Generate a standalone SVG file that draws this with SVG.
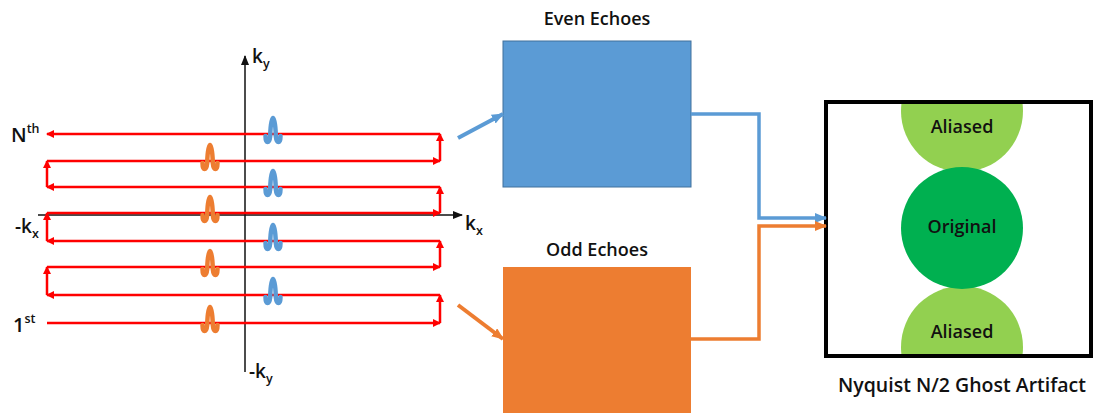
<svg xmlns="http://www.w3.org/2000/svg" xmlns:xlink="http://www.w3.org/1999/xlink" width="1095" height="413" viewBox="0 0 1095 413">
  <style>
    text { font-family: "Open Sans", "Noto Sans", "Liberation Sans", sans-serif; font-weight: 600; fill: #111; }
    .lbl { font-size: 18px; }
    .ax { font-size: 19px; }
    .sub { font-size: 12.5px; }
    .traj { stroke: #FF0000; stroke-width: 2.5; fill: none; marker-end: url(#redArrow); }
    .axis { stroke: #111; stroke-width: 1.5; fill: none; marker-end: url(#blackArrow); }
    .pulse-o { stroke: #ED7D31; }
    .pulse-b { stroke: #5B9BD5; }
    .pulse { fill: none; stroke-width: 4.5; stroke-linecap: round; stroke-linejoin: round; }
  </style>
  <defs>
    <marker id="redArrow" markerUnits="userSpaceOnUse" markerWidth="10" markerHeight="10" refX="7" refY="4" orient="auto">
      <path d="M0,0 L8,4 L0,8 Z" fill="#FF0000"/>
    </marker>
    <marker id="blackArrow" markerUnits="userSpaceOnUse" markerWidth="12" markerHeight="10" refX="9" refY="4" orient="auto">
      <path d="M0,0 L10,4 L0,8 Z" fill="#111"/>
    </marker>
    <marker id="blueArrow" markerUnits="userSpaceOnUse" markerWidth="14" markerHeight="12" refX="11" refY="5" orient="auto">
      <path d="M0,0 L12,5 L0,10 Z" fill="#5B9BD5"/>
    </marker>
    <marker id="orangeArrow" markerUnits="userSpaceOnUse" markerWidth="14" markerHeight="12" refX="11" refY="5" orient="auto">
      <path d="M0,0 L12,5 L0,10 Z" fill="#ED7D31"/>
    </marker>
    <path id="pulse" class="pulse" d="M-7.5,2 C-7.5,10 -3.5,10 -2.8,2 C-2.2,-22 2.2,-22 2.8,2 C3.5,10 7.5,10 7.5,2"/>
    <clipPath id="boxClip">
      <rect x="828" y="104" width="261" height="250"/>
    </clipPath>
  </defs>

  <!-- k-space trajectory -->
  <g id="kspace">
    <line class="axis" x1="245" y1="372" x2="245" y2="56"/>
    <line class="axis" x1="38" y1="215" x2="462" y2="215"/>
    <line class="traj" x1="47" y1="323" x2="440" y2="323"/>
    <line class="traj" x1="440" y1="323" x2="440" y2="295"/>
    <line class="traj" x1="440" y1="295" x2="47" y2="295"/>
    <line class="traj" x1="47" y1="295" x2="47" y2="267"/>
    <line class="traj" x1="47" y1="267" x2="440" y2="267"/>
    <line class="traj" x1="440" y1="267" x2="440" y2="241"/>
    <line class="traj" x1="440" y1="241" x2="47" y2="241"/>
    <line class="traj" x1="47" y1="241" x2="47" y2="213"/>
    <line class="traj" x1="47" y1="213" x2="440" y2="213"/>
    <line class="traj" x1="440" y1="213" x2="440" y2="187"/>
    <line class="traj" x1="440" y1="187" x2="47" y2="187"/>
    <line class="traj" x1="47" y1="187" x2="47" y2="161"/>
    <line class="traj" x1="47" y1="161" x2="440" y2="161"/>
    <line class="traj" x1="440" y1="161" x2="440" y2="134"/>
    <line class="traj" x1="440" y1="134" x2="47" y2="134"/>

    <use xlink:href="#pulse" href="#pulse" class="pulse-o" x="210" y="161"/>
    <use xlink:href="#pulse" href="#pulse" class="pulse-o" x="210" y="213"/>
    <use xlink:href="#pulse" href="#pulse" class="pulse-o" x="210" y="267"/>
    <use xlink:href="#pulse" href="#pulse" class="pulse-o" x="210" y="323"/>
    <use xlink:href="#pulse" href="#pulse" class="pulse-b" x="273" y="134"/>
    <use xlink:href="#pulse" href="#pulse" class="pulse-b" x="273" y="187"/>
    <use xlink:href="#pulse" href="#pulse" class="pulse-b" x="273" y="241"/>
    <use xlink:href="#pulse" href="#pulse" class="pulse-b" x="273" y="295"/>

    <text class="ax" x="252" y="63">k<tspan class="sub" dy="5">y</tspan></text>
    <text class="ax" x="465" y="230">k<tspan class="sub" dy="5">x</tspan></text>
    <text class="ax" x="249" y="378">-k<tspan class="sub" dy="5">y</tspan></text>
    <text class="ax" x="15" y="233">-k<tspan class="sub" dy="5">x</tspan></text>
    <text class="ax" x="11" y="142" style="font-size:20px">N<tspan class="sub" dy="-9">th</tspan></text>
    <text class="ax" x="13" y="332" style="font-size:20px">1<tspan class="sub" dy="-9">st</tspan></text>
  </g>

  <!-- Even echoes -->
  <g id="even">
    <rect x="503" y="41" width="188" height="146" fill="#5B9BD5" stroke="#41719C" stroke-width="1"/>
    <text class="lbl" x="597" y="25" text-anchor="middle">Even Echoes</text>
  </g>

  <!-- Odd echoes -->
  <g id="odd">
    <rect x="503" y="267" width="188" height="150" fill="#ED7D31"/>
    <text class="lbl" x="597" y="256" text-anchor="middle">Odd Echoes</text>
  </g>

  <!-- Ghost artifact -->
  <g id="ghost">
    <g clip-path="url(#boxClip)">
      <circle cx="962" cy="111" r="61" fill="#92D050"/>
      <circle cx="962" cy="347" r="61" fill="#92D050"/>
      <circle cx="962" cy="228" r="61" fill="#00B050"/>
    </g>
    <rect x="826" y="102" width="265" height="254" fill="none" stroke="#000" stroke-width="4"/>
    <text class="lbl" x="962" y="133" text-anchor="middle">Aliased</text>
    <text class="lbl" x="962" y="233" text-anchor="middle">Original</text>
    <text class="lbl" x="962" y="338" text-anchor="middle">Aliased</text>
    <text class="lbl" x="962" y="392" text-anchor="middle" style="font-size:19.5px">Nyquist N/2 Ghost Artifact</text>
  </g>

  <!-- Connectors -->
  <g id="connectors" fill="none" stroke-width="3.5">
    <line x1="458" y1="138" x2="503" y2="114" stroke="#5B9BD5" stroke-width="4" marker-end="url(#blueArrow)"/>
    <line x1="458" y1="305" x2="503" y2="339" stroke="#ED7D31" stroke-width="4" marker-end="url(#orangeArrow)"/>
    <polyline points="691,114 759,114 759,218 826,218" stroke="#5B9BD5" marker-end="url(#blueArrow)"/>
    <polyline points="691,339 759,339 759,226 826,226" stroke="#ED7D31" marker-end="url(#orangeArrow)"/>
  </g>
</svg>
